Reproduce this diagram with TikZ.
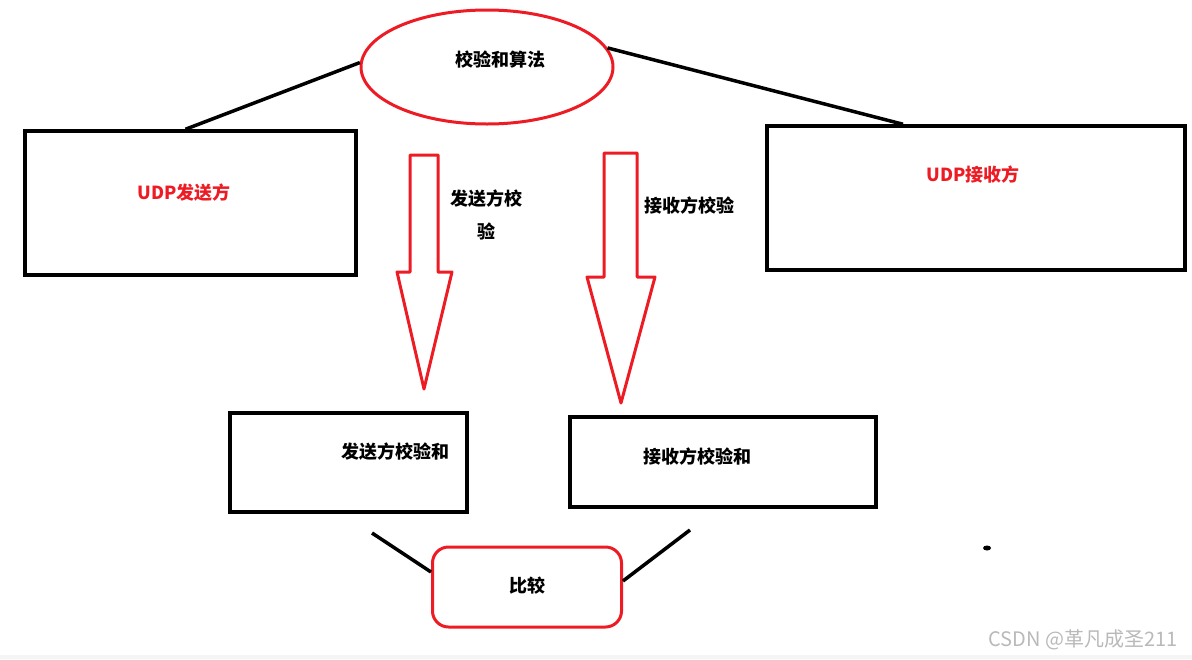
\documentclass[tikz,border=0pt]{standalone}
\usepackage{fontspec}
\setmainfont{Noto Sans CJK SC}
\usetikzlibrary{shapes.geometric}
\definecolor{drawred}{RGB}{237,28,36}
\tikzset{
  box/.style={rectangle, draw=black, line width=3.5pt},
  txt/.style={font=\fontsize{18}{21}\selectfont\bfseries, align=center},
  redtxt/.style={txt, text=drawred},
  link/.style={draw=black, line width=3.5pt},
  fatarrow/.style={draw=drawred, line width=3pt, line join=round}
}
\begin{document}
\begin{tikzpicture}[x=1pt, y=-1pt]
    \useasboundingbox (0,0) rectangle (1192,659);
    \fill[gray!8] (0,655) rectangle (1192,659);

    \node (algo) [ellipse, draw=drawred, line width=3pt, minimum width=252pt, minimum height=114pt] at (487,67) {};
    \node (algotxt) [txt] at (500,60) {校验和算法};
    \node (sender) [box, minimum width=331pt, minimum height=144pt] at (190.5,203) {};
    \node (sendertxt) [redtxt] at (184,193) {UDP发送方};
    \node (receiver) [box, minimum width=418pt, minimum height=144pt] at (976,198) {};
    \node (receivertxt) [redtxt] at (973,175) {UDP接收方};
    \node (sendsum) [box, minimum width=237pt, minimum height=99pt] at (348.5,462.5) {};
    \node (sendsumtxt) [txt] at (395,452) {发送方校验和};
    \node (recvsum) [box, minimum width=306pt, minimum height=90pt] at (723,462) {};
    \node (recvsumtxt) [txt] at (697,457) {接收方校验和};
    \node (cmp) [rectangle, rounded corners=16pt, draw=drawred, line width=3pt, minimum width=189pt, minimum height=80pt] at (527,587) {};
    \node (cmptxt) [txt] at (527,586) {比较};
    \node (sendlbl) [txt, font=\fontsize{18}{33}\selectfont\bfseries] at (486,215) {发送方校\\验};
    \node (recvlbl) [txt] at (689,206) {接收方校验};

    % lines
    \draw [link] (algo.178) -- ([xshift=-5pt]sender.north);
    \draw [link] (algo.9) -- ([xshift=-73pt]receiver.north);
    \coordinate (cmpin) at (372,533);
    \coordinate (cmpout) at (690,530);
    \draw [link] (cmpin) -- ([yshift=15pt]cmp.west);
    \draw [link] (cmpout) -- ([yshift=6pt]cmp.east);

    % big arrows
    \draw [fatarrow] (410,155) -- (438,155) -- (438,272) -- (452,272) -- (424,389) -- (397,272) -- (410,272) -- cycle;
    \draw [fatarrow] (604,153) -- (637,153) -- (637,277) -- (655,277) -- (621,403) -- (587,277) -- (604,277) -- cycle;

    \fill (987,548) ellipse (4pt and 2.5pt);
    \node (mark) [text=gray!55, font=\fontsize{20}{22}\selectfont] at (1083,640) {CSDN @革凡成圣211};
\end{tikzpicture}
\end{document}
